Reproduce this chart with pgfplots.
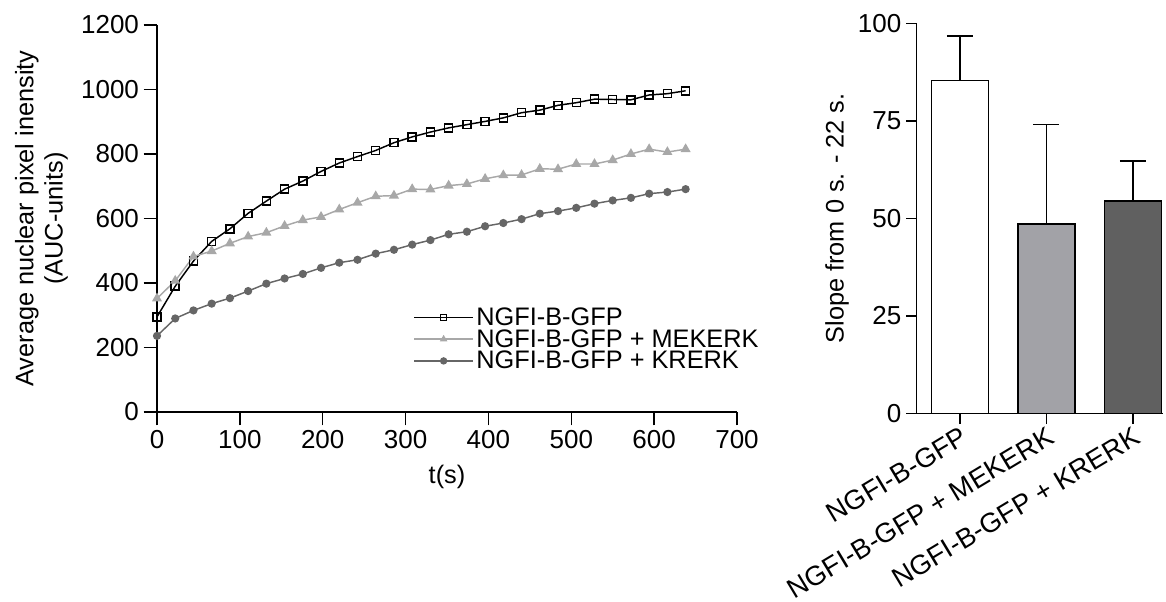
\documentclass[border=0pt]{standalone}
\usepackage{pgfplots}
\pgfplotsset{compat=1.18}
\usepackage{fontspec}
\setmainfont{Liberation Sans}

\definecolor{mekcol}{HTML}{A8A8A8}
\definecolor{krcol}{HTML}{666666}
\definecolor{barmek}{HTML}{A2A2A7}
\definecolor{barkr}{HTML}{606060}

% time course, one table per construct (t in s, intensity in AUC units)
\pgfplotstableread{
t y
0 295
22 390
44 468
66 529
88 568
110 616
132 654
154 691
176 716
198 746
220 772
242 792
264 811
286 835
308 853
330 868
352 881
374 891
396 901
418 912
440 928
462 936
484 951
506 959
528 970
550 969
572 968
594 983
616 987
638 996
}\ngfi
\pgfplotstableread{
t y
0 352
22 407
44 482
66 499
88 523
110 544
132 556
154 577
176 595
198 605
220 628
242 649
264 669
286 671
308 691
330 690
352 702
374 707
396 723
418 734
440 735
462 754
484 753
506 769
528 769
550 781
572 800
594 815
616 806
638 815
}\mekerk
\pgfplotstableread{
t y
0 236
22 290
44 315
66 336
88 353
110 375
132 398
154 414
176 428
198 447
220 463
242 472
264 491
286 503
308 519
330 533
352 551
374 559
396 576
418 586
440 598
462 615
484 623
506 633
528 646
550 656
572 664
594 677
616 682
638 691
}\krerk

\pgfplotsset{
  common/.style={
    scale only axis,
    axis lines*=left,
    axis line style={-, line width=1.1pt},
    tick style={line width=1.1pt, black},
    tick align=outside,
    major tick length=8pt,
    every tick label/.append style={font=\fontsize{19.5}{22}\selectfont},
    label style={font=\fontsize{19}{22}\selectfont},
    /pgf/number format/assume math mode=true,
    /pgf/number format/1000 sep={},
  },
  slopebar/.style={
    ybar, bar width=0.66, bar shift=0pt, draw=black, line width=1.1pt,
    error bars/.cd, y dir=plus, y explicit,
    error bar style={line width=1.1pt, black},
    error mark options={rotate=90, line width=1.1pt, mark size=9.75pt, black},
  },
}

\begin{document}
\begin{tikzpicture}
\begin{axis}[
  common,
  at={(0pt,0pt)}, anchor=south west,
  width=435pt, height=290.25pt,
  xmin=0, xmax=700, ymin=0, ymax=1200,
  xtick={0,100,...,700},
  ytick={0,200,...,1200},
  major tick length=10pt,
  xlabel={t(s)},
  xlabel style={yshift=-6pt},
  ylabel={Average nuclear pixel inensity\\(AUC-units)},
  ylabel style={align=center, yshift=3pt},
  legend style={draw=none, fill=none, font=\fontsize{19}{22}\selectfont,
    at={(axis description cs:0.435,0.284)}, anchor=north west,
    row sep=-2.5pt, cells={anchor=west}},
  legend image code/.code={
    \draw[mark repeat=2, mark phase=2, mark size=2.2pt]
      plot coordinates {(0pt,0pt) (22pt,0pt) (44pt,0pt)};
  },
]
\addplot[black, line width=1.1pt, mark=square, mark size=3pt,
  mark options={fill=white, line width=1.1pt, solid}] table[x=t, y=y] {\ngfi};
\addlegendentry{NGFI-B-GFP}
\addplot[mekcol, line width=1.1pt, mark=triangle*, mark size=3.3pt,
  mark options={solid}] table[x=t, y=y] {\mekerk};
\addlegendentry{NGFI-B-GFP + MEKERK}
\addplot[krcol, line width=1.1pt, mark=*, mark size=2.5pt,
  mark options={solid}] table[x=t, y=y] {\krerk};
\addlegendentry{NGFI-B-GFP + KRERK}
\end{axis}

\begin{axis}[
  common,
  at={(569.8pt,-1pt)}, anchor=south west,
  width=184.7pt, height=292.5pt,
  xmin=-0.5, xmax=2.35, ymin=0, ymax=100,
  clip=false,
  ytick={0,25,50,75,100},
  xtick={0,1,2},
  xticklabels={NGFI-B-GFP, NGFI-B-GFP + MEKERK, NGFI-B-GFP + KRERK},
  xticklabel style={rotate=31, anchor=north east, inner sep=1pt,
    font=\fontsize{20.5}{22}\selectfont},
  ylabel={Slope from 0 s. - 22 s.},
]
\addplot[fill=white, slopebar]  coordinates {(0,85.4) +- (0,11.3)};
\addplot[fill=barmek, slopebar] coordinates {(1,48.6) +- (0,25.5)};
\addplot[fill=barkr, slopebar]  coordinates {(2,54.5) +- (0,10.2)};
\end{axis}

\pgfresetboundingbox
\path[use as bounding box] (-117.75pt,-142.5pt) rectangle (756.75pt,309pt);
\end{tikzpicture}
\end{document}
